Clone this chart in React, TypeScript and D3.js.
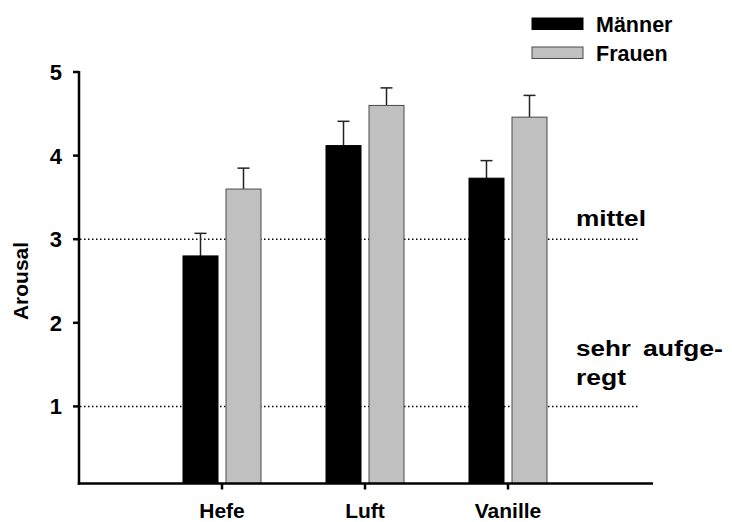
import React from "react";
import * as d3 from "d3";

const categories = ["Hefe", "Luft", "Vanille"];
const seriesNames = ["Männer", "Frauen"];
const maennerValues = [2.8, 4.12, 3.73];
const maennerErrors = [0.27, 0.29, 0.21];
const frauenValues = [3.6, 4.6, 4.46];
const frauenErrors = [0.25, 0.21, 0.26];
const yTicks = [1, 2, 3, 4, 5];
// annotation words: text, line index, horizontal offset and width
const refLines = [
  { value: 3, words: [{ t: "mittel", line: 0, dx: 0, w: 70 }] },
  {
    value: 1,
    words: [
      { t: "sehr", line: 0, dx: 0, w: 55 },
      { t: "aufge-", line: 0, dx: 67, w: 80 },
      { t: "regt", line: 1, dx: 0, w: 50 },
    ],
  },
];
const yLabel = "Arousal";

const W = 732;
const H = 522;
const FONT = "'Liberation Sans', Arial, Helvetica, sans-serif";

export default function App() {
  const y = d3.scaleLinear().domain([0, 5]).range([490, 72]);
  const x = d3.scaleLinear().domain([0, 4]).range([79, 651]);
  const axisX = 79;
  const axisY = 483.5;
  const barW = 35;
  const series = [
    { name: seriesNames[0], values: maennerValues, errors: maennerErrors, fill: "#000000", stroke: "#000000", off: -39 },
    { name: seriesNames[1], values: frauenValues, errors: frauenErrors, fill: "#c0c0c0", stroke: "#4a4a4a", off: 4 },
  ];
  return (
    <svg width={W} height={H} style={{ position: "absolute", left: 0, top: 0, background: "#fff" }} fontFamily={FONT} fontWeight="bold">
      {/* reference dotted lines */}
      {refLines.map((r, i) => (
        <g key={i}>
          <line x1={axisX + 1} x2={638} y1={y(r.value)} y2={y(r.value)} stroke="#000" strokeWidth={1.5} strokeDasharray="1.5 2.5" />
          {r.words.map((wd, j) => (
            <text
              key={j}
              x={576 + wd.dx}
              y={y(r.value) - (r.value === 3 ? 13 : 50) + wd.line * 29}
              fontSize={22}
              textLength={wd.w}
              lengthAdjust="spacingAndGlyphs"
            >
              {wd.t}
            </text>
          ))}
        </g>
      ))}
      {/* bars */}
      {series.map((s, si) =>
        categories.map((c, ci) => {
          const cx = x(ci + 1);
          const x0 = cx + s.off;
          const top = y(s.values[ci]);
          const et = y(s.values[ci] + s.errors[ci]);
          return (
            <g key={si + "-" + ci}>
              <line x1={x0 + barW / 2} x2={x0 + barW / 2} y1={top} y2={et} stroke="#222" strokeWidth={1.5} />
              <line x1={x0 + barW / 2 - 6} x2={x0 + barW / 2 + 6} y1={et} y2={et} stroke="#222" strokeWidth={1.5} />
              <rect x={x0} y={top} width={barW} height={axisY - top} fill={s.fill} stroke={s.stroke} strokeWidth={1} />
            </g>
          );
        })
      )}
      {/* y axis */}
      <line x1={axisX} x2={axisX} y1={y(5) - 1} y2={axisY + 1.25} stroke="#000" strokeWidth={2.5} />
      {yTicks.map((t) => (
        <g key={t}>
          <line x1={axisX - 6} x2={axisX} y1={y(t)} y2={y(t)} stroke="#000" strokeWidth={2.5} />
          <text x={62} y={y(t) + 8} textAnchor="end" fontSize={22}>
            {t}
          </text>
        </g>
      ))}
      <text transform={`translate(28,${y(2.5)}) rotate(-90)`} textAnchor="middle" fontSize={21}>
        {yLabel}
      </text>
      {/* x axis */}
      <line x1={axisX - 1.25} x2={653} y1={axisY} y2={axisY} stroke="#000" strokeWidth={2.5} />
      {categories.map((c, ci) => (
        <g key={c}>
          <line x1={x(ci + 1)} x2={x(ci + 1)} y1={axisY} y2={axisY + 6} stroke="#000" strokeWidth={2.5} />
          <text x={x(ci + 1)} y={518} textAnchor="middle" fontSize={21}>
            {c}
          </text>
        </g>
      ))}
      {/* legend */}
      {series.map((s, i) => (
        <g key={s.name}>
          <rect x={532} y={18 + i * 29} width={51} height={11.5} fill={s.fill} stroke={s.stroke} strokeWidth={1} />
          <text x={596} y={32 + i * 29} fontSize={21.5}>
            {s.name}
          </text>
        </g>
      ))}
    </svg>
  );
}
